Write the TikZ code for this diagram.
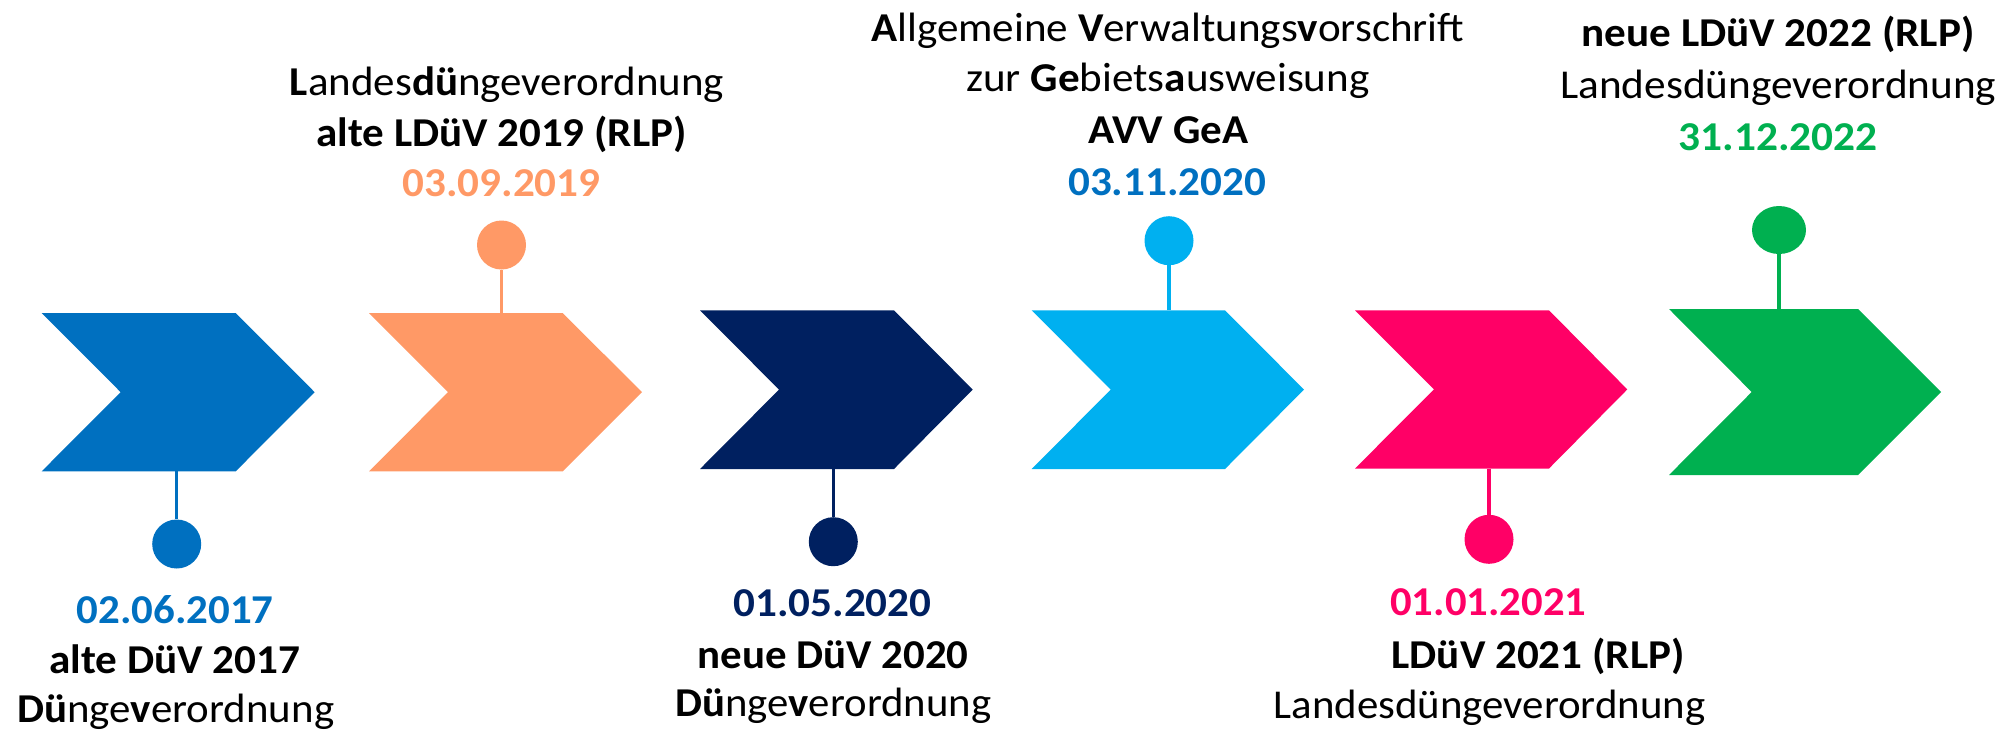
\documentclass[tikz,border=0pt]{standalone}
\usepackage{fontspec}
\usepackage{graphicx}
\setmainfont{Carlito}
\usetikzlibrary{shapes.geometric}
\definecolor{cBlue}{HTML}{0070C0}
\definecolor{cOrange}{HTML}{FF9966}
\definecolor{cNavy}{HTML}{002060}
\definecolor{cLight}{HTML}{00B0F0}
\definecolor{cPink}{HTML}{FF0066}
\definecolor{cGreen}{HTML}{00B050}
\newcommand{\fitw}[2]{\resizebox{#1pt}{\height}{#2}}
\tikzset{
  txt/.style={anchor=base, inner sep=0pt, text=black, font=\fontsize{41}{49}\selectfont},
  date/.style={txt, font=\fontsize{41}{49}\selectfont\bfseries},
  dot/.style={circle, inner sep=0pt, minimum size=49pt},
  stem/.style={line width=3.3pt},
}
\begin{document}
\begin{tikzpicture}[x=1pt,y=-1pt]
\useasboundingbox (0,0) rectangle (2013,732);
% chevrons
\fill[cBlue]   (41.7,313) -- (235.7,313) -- (314.7,392.2) -- (235.7,471.3) -- (41.7,471.3) -- (120.7,392.2) -- cycle;
\fill[cOrange] (369,313) -- (562.7,313) -- (642,392.2) -- (562.7,471.3) -- (369,471.3) -- (448,392.2) -- cycle;
\fill[cNavy]   (700,310.3) -- (894,310.3) -- (972.7,389.6) -- (894,469) -- (700,469) -- (779,389.6) -- cycle;
\fill[cLight]  (1031.7,310.3) -- (1225,310.3) -- (1304,389.6) -- (1225,469) -- (1031.7,469) -- (1110.7,389.6) -- cycle;
\fill[cPink]   (1355,310.3) -- (1549,310.3) -- (1627.3,389.4) -- (1549,468.5) -- (1355,468.5) -- (1434,389.4) -- cycle;
\fill[cGreen]  (1669,309) -- (1858,309) -- (1941,392) -- (1858,475) -- (1669,475) -- (1751.7,392) -- cycle;
% stem anchors on chevrons
\coordinate (s1) at (176.7,471.3);
\coordinate (s2) at (501.5,313);
\coordinate (s3) at (833.3,469);
\coordinate (s4) at (1169,310.3);
\coordinate (s5) at (1489,468.5);
\coordinate (s6) at (1779,309);
% dots
\node[dot, fill=cBlue]   (d1) at (176.7,544) {};
\node[dot, fill=cOrange] (d2) at (501.5,245) {};
\node[dot, fill=cNavy]   (d3) at (833.3,541.7) {};
\node[dot, fill=cLight]  (d4) at (1169,240.7) {};
\node[dot, fill=cPink]   (d5) at (1489,539.3) {};
\node[ellipse, inner sep=0pt, minimum width=54pt, minimum height=48pt, fill=cGreen] (d6) at (1779,230) {};
\draw[stem, cBlue]   (s1) -- (d1);
\draw[stem, cOrange] (s2) -- (d2);
\draw[stem, cNavy]   (s3) -- (d3);
\draw[stem, cLight]  (s4) -- (d4);
\draw[stem, cPink]   (s5) -- (d5);
\draw[stem, cGreen]  (s6) -- (d6);
% texts: blue
\node[date, text=cBlue] (t1a) at (175,623) {\fitw{197}{02.06.2017}};
\node[txt] (t1b) at (175,673) {\fitw{251}{\textbf{alte DüV 2017}}};
\node[txt] (t1c) at (175.7,722) {\fitw{317}{\textbf{Dü}nge\textbf{v}erordnung}};
% orange
\node[txt] (t2a) at (507,95) {\fitw{434}{\textbf{L}andes\textbf{dü}ngeverordnung}};
\node[txt] (t2b) at (501.5,146) {\fitw{370}{\textbf{alte LDüV 2019 (RLP)}}};
\node[date, text=cOrange] (t2c) at (501.5,196.7) {\fitw{198}{03.09.2019}};
% navy
\node[date, text=cNavy] (t3a) at (832.5,616.7) {\fitw{198}{01.05.2020}};
\node[txt] (t3b) at (833,668) {\fitw{271}{\textbf{neue DüV 2020}}};
\node[txt] (t3c) at (833.3,716.7) {\fitw{316}{\textbf{Dü}nge\textbf{v}erordnung}};
% light blue
\node[txt] (t4a) at (1167.8,41.7) {\fitw{593}{\textbf{A}llgemeine \textbf{V}erwaltungs\textbf{v}orschrift}};
\node[txt] (t4b) at (1168,91.7) {\fitw{403}{zur \textbf{Ge}biets\textbf{a}usweisung}};
\node[txt] (t4c) at (1168.3,143) {\fitw{160}{\textbf{AVV GeA}}};
\node[date, text=cBlue] (t4d) at (1167.2,195) {\fitw{198}{03.11.2020}};
% pink
\node[date, text=cPink] (t5a) at (1488.3,615) {\fitw{196}{01.01.2021}};
\node[txt] (t5b) at (1538,668) {\fitw{293}{\textbf{LDüV 2021 (RLP)}}};
\node[txt] (t5c) at (1489.5,718) {\fitw{432}{Landesdüngeverordnung}};
% green
\node[txt] (t6a) at (1778,46.7) {\fitw{393}{\textbf{neue LDüV 2022 (RLP)}}};
\node[txt] (t6b) at (1778.3,98) {\fitw{436}{Landesdüngeverordnung}};
\node[date, text=cGreen] (t6c) at (1778,150) {\fitw{199}{31.12.2022}};
\end{tikzpicture}
\end{document}
